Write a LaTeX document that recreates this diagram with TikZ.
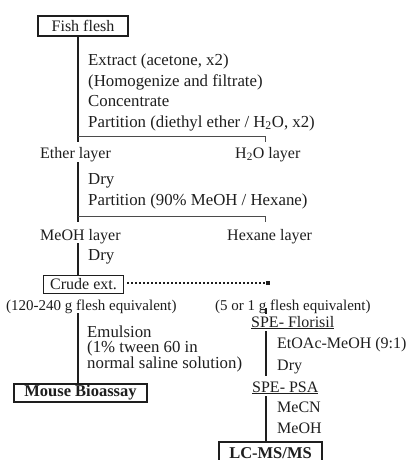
\documentclass[tikz,border=0pt]{standalone}
\usepackage{fontspec}
\usetikzlibrary{calc}
\setmainfont{Liberation Serif}
\definecolor{ink}{HTML}{1E1E1E}
\begin{document}
\begin{tikzpicture}[x=1pt,y=-1pt,
  txt/.style={anchor=base west, inner sep=0pt, text=ink, font=\fontsize{16.8}{19}\selectfont},
  rtxt/.style={anchor=base west, inner sep=0pt, text=ink, font=\fontsize{16}{19}\selectfont},
  lbl/.style={anchor=base west, inner sep=0pt, text=ink, font=\fontsize{15}{18}\selectfont},
  boldbox/.style={draw=ink, line width=2.3pt, inner sep=0pt, text=ink, font=\fontsize{16.5}{18}\selectfont\bfseries},
  thinbox/.style={draw=ink, line width=1pt, inner sep=0pt, text=ink, font=\fontsize{16}{19}\selectfont},
  vline/.style={draw=ink, line width=2.4pt},
  split/.style={draw=ink!80, line width=0.9pt},
  dotline/.style={draw=ink, line width=2pt, dash pattern=on 1.6pt off 2.4pt}
]
\useasboundingbox (0,0) rectangle (416,460);
\fill[white] (0,0) rectangle (416,460);

% ---- top box
\node[boldbox, minimum width=90pt, minimum height=20pt, font=\fontsize{16}{19}\selectfont] (fish) at (83,26) {Fish flesh};

% ---- first step texts
\node[txt] (t1) at (88,65) {Extract (acetone, x2)};
\node[txt] (t2) at (88,86) {(Homogenize and filtrate)};
\node[txt] (t3) at (88,106) {Concentrate};
\node[txt] (t4) at (88,127) {Partition (diethyl ether / H\textsubscript{2}O, x2)};

\coordinate (j1) at (78,136);
\coordinate (j1e) at (78,142);
\coordinate (r1) at (265,136);
\coordinate (r1e) at (265,142);
\draw[vline] (fish.south -| j1) -- (j1e);
\draw[split] (j1) -- (r1) -- (r1e);

\node[rtxt] (ether) at (40,158) {Ether layer};
\node[rtxt] (water) at (235,158) {H\textsubscript{2}O layer};

\node[txt] (t5) at (88,184) {Dry};
\node[txt] (t6) at (88,205) {Partition (90\% MeOH / Hexane)};

\coordinate (a2) at (78,162);
\coordinate (j2) at (78,216);
\coordinate (j2e) at (78,222);
\coordinate (r2) at (265,216);
\coordinate (r2e) at (265,222);
\draw[vline] (a2) -- (j2e);
\draw[split] (j2) -- (r2) -- (r2e);

\node[rtxt] (meoh) at (40,240) {MeOH layer};
\node[rtxt] (hex) at (227,240) {Hexane layer};

\node[txt] (t7) at (88,260) {Dry};

\node[thinbox, minimum width=80pt, minimum height=18pt] (crude) at (83.5,284.5) {Crude ext.};
\coordinate (a3) at (78,243);
\draw[vline] (a3) -- (a3 |- crude.north);

% ---- dotted branch
\coordinate (d1) at (268,283);
\draw[dotline] ($(crude.east |- d1)+(3,0)$) -- (d1);
\fill[ink] ($(d1)+(-1.6,-1.8)$) rectangle ($(d1)+(1.6,1.8)$);

\node[lbl] (eqL) at (6,310) {(120-240 g flesh equivalent)};
\node[lbl] (eqR) at (215,310) {(5 or 1 g flesh equivalent)};
\coordinate (tk1) at (266,308);
\coordinate (tk2) at (266,314);
\draw[draw=ink, line width=2pt] (tk1) -- (tk2);

% ---- left branch: mouse bioassay
\node[inner sep=0pt, text=ink, anchor=north west, align=left, font=\fontsize{16.8}{15}\selectfont] (emul) at (87,325.5)
  {Emulsion\\(1\% tween 60 in\\normal saline solution)};

\node[boldbox, minimum width=133pt, minimum height=18pt] (mouse) at (80.5,393) {Mouse Bioassay};
\coordinate (a4) at (78,313);
\draw[vline] (a4) -- (a4 |- mouse.north);

% ---- right branch: LC-MS/MS
\node[rtxt] (spe1) at (251,327) {\underline{SPE- Florisil}};
\node[rtxt] (s1) at (277,348) {EtOAc-MeOH (9:1)};
\node[rtxt] (s2) at (277,370) {Dry};
\node[rtxt] (spe2) at (252,392) {\underline{SPE- PSA}};
\node[rtxt] (s3) at (277,412) {MeCN};
\node[rtxt] (s4) at (277,433) {MeOH};

\node[boldbox, minimum width=103pt, text height=13pt, text depth=1pt, inner ysep=3pt, anchor=north] (lcms) at (270.5,441) {LC-MS/MS};

\coordinate (b1) at (266,331);
\coordinate (b1e) at (266,376);
\coordinate (b2) at (266,396);
\draw[vline] (b1) -- (b1e);
\draw[vline] (b2) -- (b2 |- lcms.north);
\end{tikzpicture}
\end{document}
